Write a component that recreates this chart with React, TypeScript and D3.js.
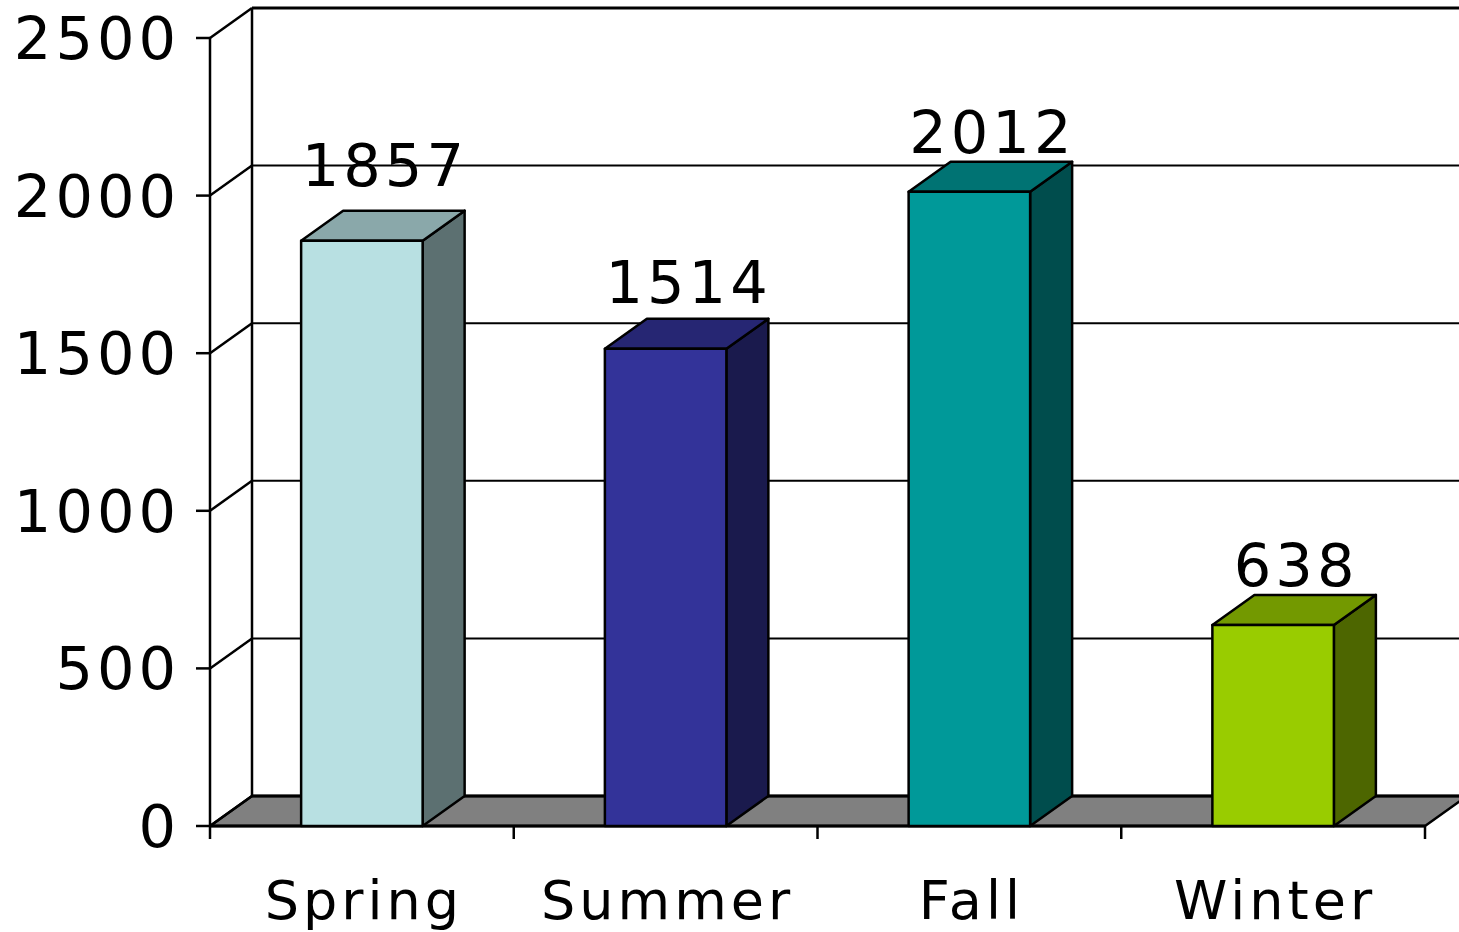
import React from 'react';
import * as d3 from 'd3';

const categories = ['Spring', 'Summer', 'Fall', 'Winter'];
const values = [1857, 1514, 2012, 638];
const barColors = ['#B8E0E2', '#333399', '#009999', '#99CC00'];
const yTicks = [0, 500, 1000, 1500, 2000, 2500];
// small per-label vertical nudges, as placed in the original
const labelNudge = [-25, -16, -9, -9];

const width = 1459;
const height = 932;
const font = '"DejaVu Sans", Verdana, sans-serif';
const depth = { dx: 42, dy: -30 };
const plot = { left: 210, right: 1425, top: 38, bottom: 826 };

const shade = (c: string, k: number) => {
  const rgb = d3.rgb(c);
  return d3.rgb(rgb.r * k, rgb.g * k, rgb.b * k).formatHex();
};

const App = () => {
  const x = d3.scaleBand()
    .domain(categories)
    .range([plot.left, plot.right])
    .paddingInner(0.6)
    .paddingOuter(0.3);

  const y = d3.scaleLinear()
    .domain([0, 2500])
    .range([plot.bottom, plot.top]);

  const step = x.step();
  const catTicks = d3.range(categories.length + 1).map(i => plot.left + i * step);
  const { dx, dy } = depth;

  return (
    <svg
      width={width}
      height={height}
      style={{ position: 'absolute', left: 0, top: 0, background: '#fff' }}
    >
      {/* Floor */}
      <polygon
        points={`${plot.left},${y(0)} ${plot.right},${y(0)} ${plot.right + dx},${y(0) + dy} ${plot.left + dx},${y(0) + dy}`}
        fill="#808080"
        stroke="#000"
        strokeWidth={2.5}
        strokeLinejoin="round"
      />

      {/* Back wall gridlines */}
      {yTicks.map(t => (
        <line
          key={'g' + t}
          x1={plot.left + dx}
          x2={width}
          y1={y(t) + dy}
          y2={y(t) + dy}
          stroke="#000"
          strokeWidth={t === 2500 || t === 0 ? 3 : 2}
        />
      ))}

      {/* Side wall */}
      <line x1={plot.left + dx} x2={plot.left + dx} y1={y(2500) + dy} y2={y(0) + dy} stroke="#000" strokeWidth={2.5} />
      {yTicks.map(t => (
        <line
          key={'d' + t}
          x1={plot.left}
          x2={plot.left + dx}
          y1={y(t)}
          y2={y(t) + dy}
          stroke="#000"
          strokeWidth={2.5}
        />
      ))}

      {/* Y axis */}
      <line x1={plot.left} x2={plot.left} y1={y(2500)} y2={y(0)} stroke="#000" strokeWidth={2.5} />
      {yTicks.map(t => (
        <g key={'y' + t}>
          <line x1={plot.left - 14} x2={plot.left} y1={y(t)} y2={y(t)} stroke="#000" strokeWidth={2.5} />
          <text
            x={plot.left - 30}
            y={y(t) + 21}
            textAnchor="end"
            fontFamily={font}
            fontSize={59}
            letterSpacing={4}
            fill="#000"
          >
            {t}
          </text>
        </g>
      ))}

      {/* X axis */}
      <line x1={plot.left} x2={plot.right} y1={y(0)} y2={y(0)} stroke="#000" strokeWidth={3} />
      {catTicks.map((t, i) => (
        <line key={'x' + i} x1={t} x2={t} y1={y(0)} y2={y(0) + 13} stroke="#000" strokeWidth={2.5} />
      ))}
      {categories.map(c => (
        <text
          key={'c' + c}
          x={(x(c) ?? 0) + x.bandwidth() / 2 + 2}
          y={919}
          textAnchor="middle"
          fontFamily={font}
          fontSize={54}
          letterSpacing={4}
          fill="#000"
        >
          {c}
        </text>
      ))}

      {/* Bars */}
      {categories.map((c, i) => {
        const x0 = x(c) ?? 0;
        const x1 = x0 + x.bandwidth();
        const yTop = y(values[i]);
        const yBase = y(0);
        const col = barColors[i];
        return (
          <g key={'b' + c} stroke="#000" strokeWidth={2.5} strokeLinejoin="round">
            <polygon
              points={`${x1},${yTop} ${x1 + dx},${yTop + dy} ${x1 + dx},${yBase + dy} ${x1},${yBase}`}
              fill={shade(col, 0.5)}
            />
            <polygon
              points={`${x0},${yTop} ${x0 + dx},${yTop + dy} ${x1 + dx},${yTop + dy} ${x1},${yTop}`}
              fill={shade(col, 0.75)}
            />
            <rect x={x0} y={yTop} width={x1 - x0} height={yBase - yTop} fill={col} />
          </g>
        );
      })}

      {/* Value labels */}
      {categories.map((c, i) => (
        <text
          key={'v' + c}
          x={(x(c) ?? 0) + x.bandwidth() / 2 + dx / 2 + 2}
          y={y(values[i]) + dy + labelNudge[i]}
          textAnchor="middle"
          fontFamily={font}
          fontSize={59}
          letterSpacing={4}
          fill="#000"
        >
          {values[i]}
        </text>
      ))}
    </svg>
  );
};

export default App;
